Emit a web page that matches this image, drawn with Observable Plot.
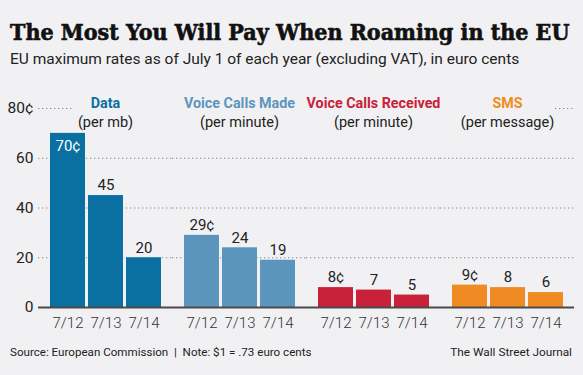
<!DOCTYPE html>
<html>
<head>
<meta charset="utf-8">
<script src="https://cdn.jsdelivr.net/npm/d3@7"></script>
<script src="https://cdn.jsdelivr.net/npm/@observablehq/plot@0.6"></script>
<style>
  html, body { margin: 0; padding: 0; background: #f1f1f3; }
  #wrap { position: relative; width: 583px; height: 375px; background: #f1f1f3; overflow: hidden; font-family: Roboto, "Liberation Sans", sans-serif; color: #222; }
  #title { position: absolute; left: 10px; top: 18px; font-family: "DejaVu Serif Condensed", "DejaVu Serif", serif; font-stretch: condensed; font-weight: bold; font-size: 23px; color: #111; white-space: nowrap; -webkit-text-stroke: 0.6px #111; }
  #subtitle { position: absolute; left: 10px; top: 50px; font-size: 15.5px; color: #222; white-space: nowrap; }
  #chart { position: absolute; left: 0; top: 78px; }
  #source { position: absolute; left: 10px; top: 345px; font-size: 11.6px; color: #222; white-space: nowrap; }
  #credit { position: absolute; right: 11px; top: 345px; font-size: 11.8px; color: #222; white-space: nowrap; }
</style>
</head>
<body>
<div id="wrap">
  <div id="title">The Most You Will Pay When Roaming in the EU</div>
  <div id="subtitle">EU maximum rates as of July 1 of each year (excluding VAT), in euro cents</div>
  <div id="chart"></div>
  <div id="source">Source: European Commission &nbsp;|&nbsp; Note: $1 = .73 euro cents</div>
  <div id="credit">The Wall Street Journal</div>
</div>
<script>
// ---- data ----
const groups = ["Data", "Voice Calls Made", "Voice Calls Received", "SMS"];
const units = ["(per mb)", "(per minute)", "(per minute)", "(per message)"];
const years = ["7/12", "7/13", "7/14"];
const dataRates = [70, 45, 20];
const voiceMadeRates = [29, 24, 19];
const voiceReceivedRates = [8, 7, 5];
const smsRates = [9, 8, 6];
const groupColors = ["#0a70a2", "#5b95be", "#c9213a", "#ef8b22"];
const yTicks = [0, 20, 40, 60, 80];

const series = [dataRates, voiceMadeRates, voiceReceivedRates, smsRates];
const rows = [];
groups.forEach((g, gi) => years.forEach((yr, yi) => rows.push({group: g, year: yr, value: series[gi][yi], first: yi === 0})));
const headers = groups.map((g, i) => ({group: g, unit: units[i]}));
const label = d => d.first ? `${d.value}¢` : `${d.value}`;

const chart = Plot.plot({
  width: 583,
  height: 260,
  marginLeft: 38,
  marginRight: 9,
  marginTop: 30,
  marginBottom: 31,
  style: {background: "transparent", fontFamily: "Roboto, sans-serif", fontSize: "15px", color: "#222", overflow: "visible"},
  fx: {domain: groups, paddingInner: 0, paddingOuter: 0, axis: null, label: null},
  x: {domain: years, paddingInner: 0.08, paddingOuter: 0.3, axis: null, label: null},
  y: {domain: [0, 80], axis: null, label: null},
  color: {domain: groups, range: groupColors},
  marks: [
    Plot.ruleY([20, 40, 60], {stroke: "#888", strokeDasharray: "1.3,2.7", strokeWidth: 1}),
    Plot.ruleY(headers.filter(d => d.group === groups[0]), {fx: "group", y: () => 80, insetRight: 100, stroke: "#888", strokeDasharray: "1.3,2.7"}),
    Plot.ruleY(headers.filter(d => d.group === groups[3]), {fx: "group", y: () => 80, insetLeft: 115, stroke: "#888", strokeDasharray: "1.3,2.7"}),
    Plot.barY(rows, {fx: "group", x: "year", y: "value", fill: "group"}),
    Plot.ruleY([0], {stroke: "#4a4a4a", strokeWidth: 2}),
    Plot.text(rows.filter(d => d.value < 60), {fx: "group", x: "year", y: "value", text: label, dy: -10, fill: "#222", fontSize: 15}),
    Plot.text(rows.filter(d => d.value >= 60), {fx: "group", x: "year", y: "value", text: label, dy: 13, fill: "#fff", fontSize: 15}),
    Plot.text(headers, {fx: "group", frameAnchor: "top", text: "group", dy: -11, fill: "group", fontWeight: "bold", fontSize: 14.3}),
    Plot.text(headers, {fx: "group", frameAnchor: "top", text: "unit", dy: 8.5, fill: "#222", fontSize: 14.5}),
    Plot.axisX({tickSize: 0, tickPadding: 10, fontSize: 15, fontWeight: 300, fill: "#333"}),
    Plot.axisY({ticks: yTicks, tickSize: 0, tickPadding: 5, tickFormat: d => d === 80 ? "80¢" : d, fontSize: 15.5, fill: "#222"})
  ]
});
document.getElementById("chart").appendChild(chart);
</script>
</body>
</html>
